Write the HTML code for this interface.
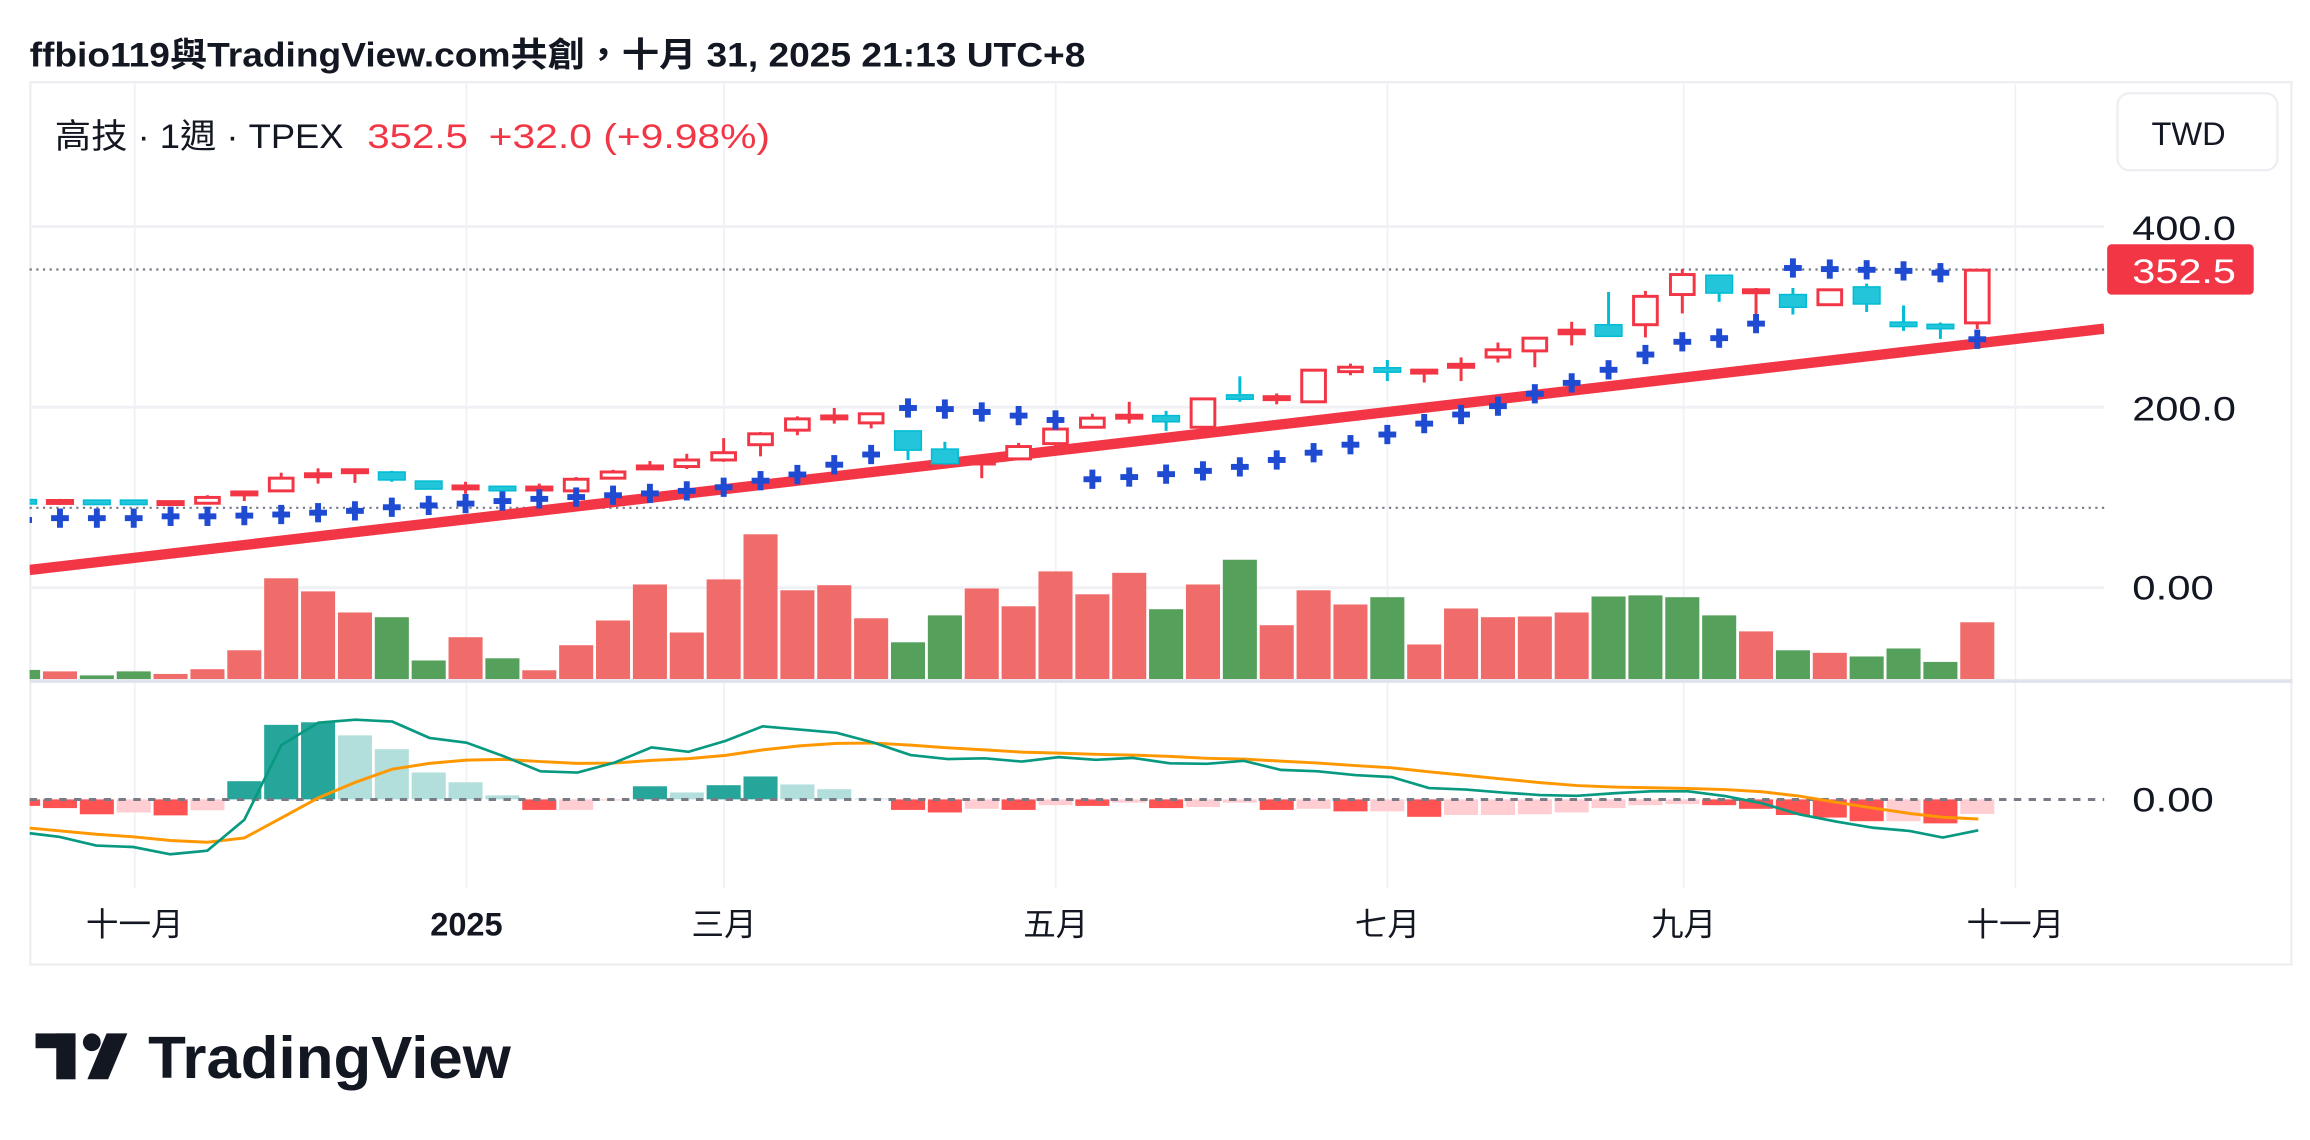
<!DOCTYPE html>
<html><head><meta charset="utf-8"><style>
html,body{margin:0;padding:0;background:#fff;}
svg{display:block;}
text{font-family:"Liberation Sans","Noto Sans CJK TC",sans-serif;}
</style></head><body>
<svg id="s" width="2310" height="1140" viewBox="0 0 1560 770" preserveAspectRatio="none" xmlns="http://www.w3.org/2000/svg">
<defs><clipPath id="cp"><rect x="20" y="55" width="1401" height="597"/></clipPath></defs>
<rect width="1560" height="770" fill="#fff"/>
<text x="20" y="45" font-size="23" font-weight="bold" fill="#131722" textLength="713" lengthAdjust="spacingAndGlyphs">ffbio119與TradingView.com共創，十月 31, 2025 21:13 UTC+8</text>
<rect x="20.5" y="55.5" width="1527" height="596" fill="none" stroke="#eceef2" stroke-width="1.5"/>
<g stroke="#f0f1f4" stroke-width="1.2">
<line x1="91" y1="55" x2="91" y2="600"/><line x1="315" y1="55" x2="315" y2="600"/><line x1="489" y1="55" x2="489" y2="600"/><line x1="713" y1="55" x2="713" y2="600"/><line x1="937" y1="55" x2="937" y2="600"/><line x1="1137" y1="55" x2="1137" y2="600"/><line x1="1361" y1="55" x2="1361" y2="600"/>
<line x1="20" y1="153" x2="1421" y2="153" stroke-width="2"/><line x1="20" y1="275" x2="1421" y2="275" stroke-width="2"/><line x1="20" y1="397" x2="1421" y2="397" stroke-width="2"/>
</g>
<line x1="20" y1="460" x2="1548" y2="460" stroke="#e0e3eb" stroke-width="2.5"/>
<g id="vol" clip-path="url(#cp)"></g>
<g id="mh" clip-path="url(#cp)"></g>
<line x1="20" y1="540" x2="1421" y2="540" stroke="#787b86" stroke-width="2" stroke-dasharray="5,5"/>
<g id="ml" clip-path="url(#cp)" fill="none"></g>
<line x1="20" y1="182" x2="1421" y2="182" stroke="#787b86" stroke-width="1.5" stroke-dasharray="1.5,3"/>
<line x1="20" y1="343" x2="1421" y2="343" stroke="#787b86" stroke-width="1.5" stroke-dasharray="1.5,3"/>
<g clip-path="url(#cp)"><line x1="20" y1="385" x2="1421" y2="222" stroke="#f23645" stroke-width="7"/></g>
<g id="cd" clip-path="url(#cp)"></g>
<g id="sar" clip-path="url(#cp)" fill="#1e4bd2"></g>
<text x="37" y="100" font-size="23" fill="#131722" textLength="195" lengthAdjust="spacingAndGlyphs">高技 · 1週 · TPEX</text>
<text x="248" y="100" font-size="23" fill="#f23645" textLength="68" lengthAdjust="spacingAndGlyphs">352.5</text>
<text x="330" y="100" font-size="23" fill="#f23645" textLength="190" lengthAdjust="spacingAndGlyphs">+32.0 (+9.98%)</text>
<rect x="1430" y="63" width="108" height="52" rx="8" fill="#fff" stroke="#eceef2" stroke-width="1.5"/>
<text x="1478" y="98" font-size="22" fill="#131722" text-anchor="middle">TWD</text>
<text x="1440" y="162" font-size="23" fill="#131722" textLength="70" lengthAdjust="spacingAndGlyphs">400.0</text>
<text x="1440" y="284" font-size="23" fill="#131722" textLength="70" lengthAdjust="spacingAndGlyphs">200.0</text>
<rect x="1423" y="165" width="99" height="34" rx="3" fill="#f23645"/>
<text x="1440" y="191" font-size="23" fill="#fff" textLength="70" lengthAdjust="spacingAndGlyphs">352.5</text>
<text x="1440" y="405" font-size="23" fill="#131722" textLength="55" lengthAdjust="spacingAndGlyphs">0.00</text>
<text x="1440" y="548" font-size="23" fill="#131722" textLength="55" lengthAdjust="spacingAndGlyphs">0.00</text>
<g font-size="22" fill="#131722" text-anchor="middle">
<text x="91" y="632">十一月</text><text x="315" y="632" font-weight="bold">2025</text><text x="489" y="632">三月</text><text x="713" y="632">五月</text><text x="937" y="632">七月</text><text x="1137" y="632">九月</text><text x="1361" y="632">十一月</text>
</g>
<g fill="#131722">
<rect x="24" y="698" width="27" height="10"/><rect x="38" y="698" width="13" height="31"/>
<circle cx="62" cy="704" r="6"/><path d="M72 698 H86 L73 729 H59 Z"/>
<text x="100" y="728" font-size="40" font-weight="bold" textLength="245" lengthAdjust="spacingAndGlyphs">TradingView</text>
</g>
</svg>
<script>
var NS="http://www.w3.org/2000/svg";
function el(p,t,a){var e=document.createElementNS(NS,t);for(var k in a)e.setAttribute(k,a[k]);document.getElementById(p).appendChild(e);return e;}
function X(i){return 15.6+i*24.9;}
function LY(z){return 387.9+z*0.2456;}
var v="263g,267r,278g,267g,274r,261r,209r,11r,47r,105r,118g,237g,173r,231g,264r,195r,127r,28r,160r,14r,-110r,44r,30r,121r,187g,113g,39r,88r,-8r,55r,-4r,96g,28r,-40g,140r,44r,83r,63g,193r,94r,118r,116r,105r,61g,58g,63g,113g,157r,209g,216r,226g,204g,241g,132r".split(",");
v.forEach(function(s,i){var z=parseFloat(s),c=s.slice(-1);var t=LY(z),b=LY(288);el("vol","rect",{x:X(i)-11.5,y:t,width:23,height:b-t,fill:c=="g"?"#55a05a":"#f06c6a"});});
var h="637R,643R,660R,655P,663R,649P,569T,414T,407T,443L,481L,545L,572L,608L,648R,648P,622P,583T,600L,580T,556T,578L,591L,617L,648R,655R,645P,648R,635P,637R,628P,643R,640P,628P,648R,645P,652R,652P,667R,662P,662P,660P,655P,643P,635P,632P,635R,645R,662R,669R,679R,679P,685R,659P".split(",");
var col={R:"#ff5252",P:"#ffcdd2",T:"#26a69a",L:"#b2dfdb"};
h.forEach(function(s,i){var z=parseFloat(s),c=s.slice(-1);var a=LY(z),b=LY(619);el("mh","rect",{x:X(i)-11.5,y:Math.min(a,b),width:23,height:Math.abs(a-b),fill:col[c]});});
var m=[20,712,40,722,65,746,90,750,115,770,140,760,165,675,190,470,215,408,240,400,265,405,290,450,315,463,340,500,365,542,390,545,415,518,440,476,465,488,490,458,515,418,540,427,565,436,590,463,615,497,640,508,665,506,690,515,715,503,740,510,765,505,790,520,815,521,840,513,865,538,890,542,915,552,940,558,965,588,990,592,1015,600,1040,607,1065,609,1090,602,1115,597,1140,597,1165,610,1190,630,1215,660,1240,680,1265,697,1290,706,1312,724,1336,704];
var sg=[20,698,65,715,90,722,115,732,140,737,165,725,190,670,215,615,240,572,265,536,290,520,315,511,340,509,365,515,390,520,415,519,440,512,465,507,490,498,515,483,540,472,565,465,590,464,615,470,640,477,665,483,690,489,715,492,740,495,765,497,790,501,815,506,840,508,865,514,890,519,915,526,940,532,965,543,990,553,1015,563,1040,573,1065,581,1090,585,1115,587,1140,589,1165,592,1190,598,1215,610,1240,627,1265,643,1290,658,1312,668,1336,673];
function pts(a){var r=[];for(var i=0;i<a.length;i+=2)r.push(a[i]+","+LY(a[i+1]).toFixed(1));return r.join(" ");}
el("ml","polyline",{points:pts(sg),stroke:"#ff9800",'stroke-width':2});
el("ml","polyline",{points:pts(m),stroke:"#089981",'stroke-width':1.8});
var c=[[0,'c',0,1376,1384,1376,1384],[1,'r',0,1377,1384,1372,1388],[2,'c',0,1378,1385,1378,1385],[3,'c',0,1378,1385,1378,1385],[4,'r',0,1380,1387,1378,1390],[5,'r',1,1368,1384,1362,1384],[6,'r',0,1353,1361,1353,1378],[7,'r',1,1315,1350,1300,1350],[8,'r',0,1303,1311,1288,1330],[9,'r',0,1292,1300,1290,1328],[10,'c',0,1298,1320,1295,1325],[11,'c',0,1323,1345,1323,1345],[12,'r',0,1336,1345,1325,1358],[13,'c',0,1339,1348,1339,1350],[14,'r',0,1339,1348,1330,1350],[15,'r',1,1318,1350,1312,1350],[16,'r',1,1298,1315,1292,1315],[17,'r',0,1281,1290,1268,1292],[18,'r',1,1265,1283,1248,1290],[19,'r',1,1245,1265,1205,1270],[20,'r',1,1193,1223,1188,1255],[21,'r',1,1152,1183,1145,1197],[22,'r',0,1144,1152,1122,1165],[23,'r',1,1138,1163,1138,1178],[24,'c',0,1185,1238,1185,1265],[25,'c',0,1235,1275,1215,1278],[26,'r',0,1268,1276,1260,1315],[27,'r',1,1228,1262,1218,1262],[28,'r',1,1180,1220,1180,1230],[29,'r',1,1150,1175,1138,1175],[30,'r',0,1142,1150,1105,1165],[31,'c',0,1143,1160,1130,1185],[32,'r',1,1097,1175,1097,1175],[33,'c',0,1088,1096,1035,1105],[34,'r',0,1091,1099,1082,1112],[35,'r',1,1018,1105,1018,1105],[36,'r',1,1010,1022,1000,1032],[37,'c',0,1012,1023,990,1048],[38,'r',0,1018,1026,1018,1052],[39,'r',0,1000,1012,983,1048],[40,'r',1,962,982,942,997],[41,'r',1,930,965,930,1010],[42,'r',0,906,920,885,950],[43,'c',0,893,925,803,925],[44,'r',1,815,893,800,928],[45,'r',1,755,810,740,862],[46,'c',0,757,806,757,830],[47,'r',0,797,805,792,880],[48,'c',0,810,845,792,865],[49,'r',1,797,838,797,838],[50,'c',0,789,836,780,858],[51,'c',0,888,896,840,910],[52,'c',0,893,903,887,932],[53,'r',1,743,888,743,905]];
var K=0.2456;
c.forEach(function(d){var x=X(d[0]),clr=d[1]=='r'?"#f23645":"#00bcd4",fill=d[1]=='r'?"#f23645":"#22c5d9";
el("cd","line",{x1:x,x2:x,y1:d[5]*K,y2:d[6]*K,stroke:clr,'stroke-width':2});
var t=d[3]*K,b=d[4]*K;if(b-t<3){var mm=(t+b)/2;t=mm-1.5;b=mm+1.5;}
if(d[2])el("cd","rect",{x:x-8,y:t,width:16,height:b-t,fill:"#fff",stroke:clr,'stroke-width':2});
else el("cd","rect",{x:x-9,y:t,width:18,height:b-t,fill:fill,stroke:clr,'stroke-width':1});});
var sar=[1430,1425,1425,1425,1420,1420,1418,1415,1410,1405,1395,1390,1385,1378,1372,1367,1362,1357,1350,1340,1322,1305,1278,1250,1122,1125,1133,1143,1155,1318,1312,1304,1295,1284,1265,1245,1223,1195,1165,1140,1117,1083,1053,1017,975,940,930,890,737,740,742,745,750,933];
sar.forEach(function(z,i){var x=X(i),y=z*K;el("sar","rect",{x:x-6,y:y-2,width:12,height:4});el("sar","rect",{x:x-2,y:y-6.5,width:4,height:13});});
</script>
</body></html>
